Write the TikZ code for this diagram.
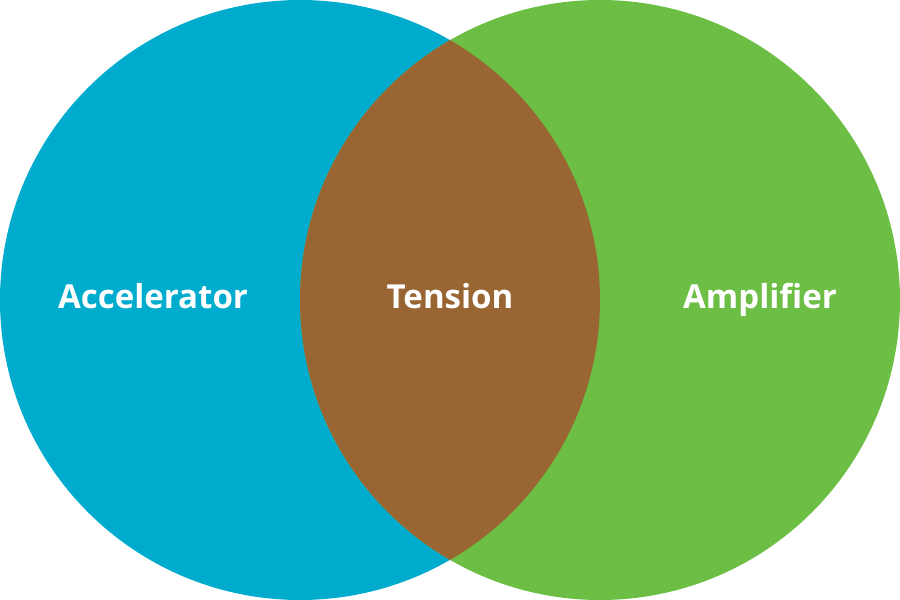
\documentclass[tikz,border=0pt]{standalone}
\usepackage{tikz}
\usepackage{xcolor}
\usepackage{fontspec}
\setmainfont{Open Sans}
\definecolor{accblue}{HTML}{00ACCE}
\definecolor{ampgreen}{HTML}{6CBE45}
\definecolor{tenbrown}{HTML}{996633}

\begin{document}
\begin{tikzpicture}[label/.style={text=white,anchor=base,font=\fontsize{9.4}{11}\selectfont\bfseries}]
	\useasboundingbox (0,0) rectangle (9,6);
	\fill [accblue] (3,3) circle (3);
	\fill [ampgreen] (6,3) circle (3);
	\begin{scope}
		\clip (3,3) circle (3);
		\fill [tenbrown] (6,3) circle (3);
	\end{scope}
	\node [label] (acc) at (1.53,2.91) {Accelerator};
	\node [label] (ten) at (4.50,2.91) {Tension};
	\node [label] (amp) at (7.60,2.91) {Amplifier};
\end{tikzpicture}
\end{document}
